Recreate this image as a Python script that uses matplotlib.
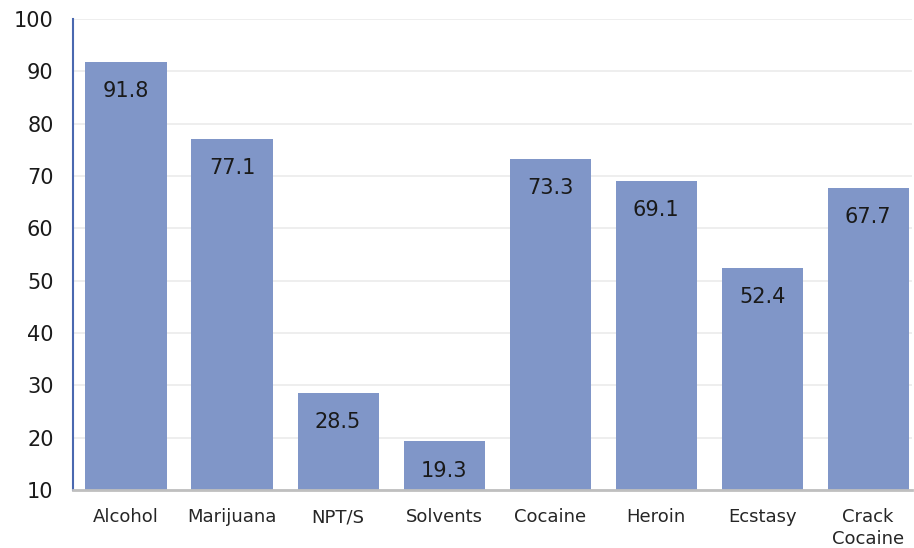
import matplotlib
matplotlib.use('Agg')
import matplotlib.pyplot as plt
import numpy as np

categories = ['Alcohol', 'Marijuana', 'NPT/S', 'Solvents', 'Cocaine', 'Heroin', 'Ecstasy', 'Crack\nCocaine']
values = [91.8, 77.1, 28.5, 19.3, 73.3, 69.1, 52.4, 67.7]
yticks = [10, 20, 30, 40, 50, 60, 70, 80, 90, 100]

fig = plt.figure(figsize=(9.14, 5.48), dpi=100)
ax = fig.add_axes([0.0799, 0.1058, 0.918, 0.8595])

x = np.arange(len(categories))
bars = ax.bar(x, values, width=0.765, color='#8096c8', zorder=2)

# value labels just under the top of each bar
for b, v in zip(bars, values):
    ax.annotate(f'{v:.1f}', (b.get_x() + b.get_width() / 2, b.get_height()),
                xytext=(0, -21), textcoords='offset points',
                ha='center', va='center', fontsize=15, color='#1a1a1a')

# plot area is cut a little on the right, last slot not fully shown
ax.set_xlim(-0.5, 7.415)
ax.set_ylim(10, 100)
ax.set_yticks(yticks)
ax.set_yticklabels([str(t) for t in yticks], fontsize=15, color='#1a1a1a')
ax.set_xticks(x)
ax.set_xticklabels(categories, fontsize=13, color='#262626', linespacing=1.25)
ax.tick_params(axis='both', length=0)
ax.tick_params(axis='x', pad=13)
ax.tick_params(axis='y', pad=14)

ax.grid(axis='y', color='#ebebeb', linewidth=1.2, zorder=0)
for s in ['top', 'right']:
    ax.spines[s].set_visible(False)
ax.spines['left'].set_color('#4a68b0')
ax.spines['left'].set_linewidth(1.5)
ax.spines['bottom'].set_color('#bfbfbf')
ax.spines['bottom'].set_linewidth(2)

fig.savefig('out.png', dpi=100)
